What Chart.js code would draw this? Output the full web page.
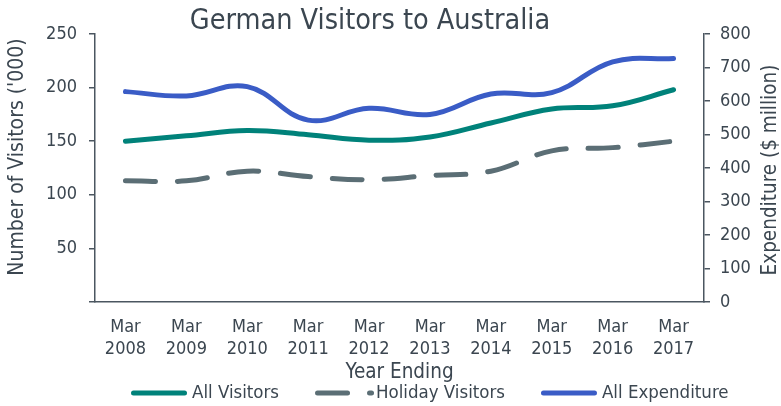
<!DOCTYPE html>
<html>
<head>
<meta charset="utf-8">
<script src="https://cdn.jsdelivr.net/npm/chart.js@4"></script>
<style>
html,body{margin:0;padding:0;background:#fff;}
#wrap{width:781px;height:406px;position:relative;}
</style>
</head>
<body>
<div id="wrap"><canvas id="c" width="781" height="406"></canvas></div>
<script>
// ---- data ----
const categories = [["Mar","2008"],["Mar","2009"],["Mar","2010"],["Mar","2011"],["Mar","2012"],["Mar","2013"],["Mar","2014"],["Mar","2015"],["Mar","2016"],["Mar","2017"]];
const allVisitors = [150, 155, 160, 156, 151, 154, 167, 180, 183, 198];
const holidayVisitors = [113, 113, 122, 117, 114, 118, 122, 141, 144, 150];
const allExpenditure = [628, 615, 643, 543, 578, 560, 621, 625, 717, 727];
const seriesNames = ["All Visitors", "Holiday Visitors", "All Expenditure"];
const leftTicks = [0, 50, 100, 150, 200, 250];
const rightTicks = [0, 100, 200, 300, 400, 500, 600, 700, 800];
const chartTitle = 'German Visitors to Australia';
const leftAxisTitle = "Number of Visitors ('000)";
const rightAxisTitle = "Expenditure ($ million)";

const FONT = "'DejaVu Sans Condensed', 'DejaVu Sans', sans-serif";
const TXT = '#3b4650';
const AXIS = '#4b5660';
const GREEN = '#00827a';
const GRAY = '#5b6e75';
const BLUE = '#3a5cc6';

const decorPlugin = {
  id: 'decor',
  afterDraw(chart) {
    const ctx = chart.ctx;
    ctx.save();
    ctx.fillStyle = TXT;
    ctx.textAlign = 'center';
    ctx.textBaseline = 'middle';
    // chart title
    ctx.font = '28.5px ' + FONT;
    ctx.fillText(chartTitle, 370, 22);
    // vertical axis titles (both read bottom-to-top)
    ctx.font = '21px ' + FONT;
    ctx.save(); ctx.translate(18, 157); ctx.rotate(-Math.PI / 2); ctx.fillText(leftAxisTitle, 0, 0); ctx.restore();
    ctx.font = '20.5px ' + FONT;
    ctx.save(); ctx.translate(771, 170); ctx.rotate(-Math.PI / 2); ctx.fillText(rightAxisTitle, 0, 0); ctx.restore();
    ctx.restore();

    // legend
    const y = 393;
    const sample = 56, gapText = 5, gapItem = 36;
    ctx.save();
    ctx.font = '18.5px ' + FONT;
    const items = chart.data.datasets.map(ds => ({ds, w: ctx.measureText(ds.label).width}));
    let x = 131;
    items.forEach(it => {
      ctx.save();
      ctx.strokeStyle = it.ds.borderColor;
      ctx.lineWidth = it.ds.borderWidth;
      ctx.lineCap = 'round';
      ctx.setLineDash(it.ds.borderDash || []);
      ctx.beginPath();
      ctx.moveTo(x + 2.5, y);
      ctx.lineTo(x + sample - (it.ds.borderDash ? -0.5 : 2.5), y);
      ctx.stroke();
      ctx.restore();
      ctx.fillStyle = TXT;
      ctx.textBaseline = 'middle';
      ctx.textAlign = 'left';
      ctx.fillText(it.ds.label, x + sample + gapText, y);
      x += sample + gapText + it.w + gapItem;
    });
    ctx.restore();
  }
};

new Chart(document.getElementById('c'), {
  type: 'line',
  data: {
    labels: categories,
    datasets: [
      {label: seriesNames[0], data: allVisitors, yAxisID: 'y', borderColor: GREEN, backgroundColor: GREEN, borderWidth: 5, tension: 0.4, pointRadius: 0, borderCapStyle: 'round'},
      {label: seriesNames[1], data: holidayVisitors, yAxisID: 'y', borderColor: GRAY, backgroundColor: GRAY, borderWidth: 5, borderDash: [30, 22], tension: 0.4, pointRadius: 0, borderCapStyle: 'round'},
      {label: seriesNames[2], data: allExpenditure, yAxisID: 'y1', borderColor: BLUE, backgroundColor: BLUE, borderWidth: 5, tension: 0.4, pointRadius: 0, borderCapStyle: 'round'}
    ]
  },
  options: {
    responsive: false,
    animation: false,
    layout: {padding: {left: 0, right: 0, top: 34, bottom: 23}},
    plugins: {
      legend: {display: false},
      tooltip: {enabled: false},
      title: {display: false}
    },
    scales: {
      x: {
        offset: true,
        grid: {display: false, drawTicks: false},
        border: {display: true, color: AXIS, width: 1.5},
        ticks: {color: TXT, font: {family: FONT, size: 18, lineHeight: 1.25}, padding: 14, maxRotation: 0, autoSkip: false},
        title: {display: true, text: 'Year Ending', color: TXT, font: {family: FONT, size: 20.5, lineHeight: 1}, padding: {top: 0, bottom: 0}},
        afterFit(s) { s.height = 81; }
      },
      y: {
        position: 'left', min: leftTicks[0], max: leftTicks[leftTicks.length-1],
        afterBuildTicks(s) { s.ticks = leftTicks.map(v => ({value: v})); },
        grid: {display: true, drawOnChartArea: false, drawTicks: true, tickLength: 6, color: AXIS, lineWidth: 1.5},
        border: {display: true, color: AXIS, width: 1.5},
        ticks: {color: TXT, font: {family: FONT, size: 18}, padding: 12, callback: v => v === 0 ? '' : String(v)},
        title: {display: false},
        afterFit(s) { s.width = 95; }
      },
      y1: {
        position: 'right', min: rightTicks[0], max: rightTicks[rightTicks.length-1],
        afterBuildTicks(s) { s.ticks = rightTicks.map(v => ({value: v})); },
        grid: {display: true, drawOnChartArea: false, drawTicks: true, tickLength: 6, color: AXIS, lineWidth: 1.5},
        border: {display: true, color: AXIS, width: 1.5},
        ticks: {color: TXT, font: {family: FONT, size: 18}, padding: 10},
        title: {display: false},
        afterFit(s) { s.width = 77; }
      }
    }
  },
  plugins: [decorPlugin]
});
</script>
</body>
</html>
